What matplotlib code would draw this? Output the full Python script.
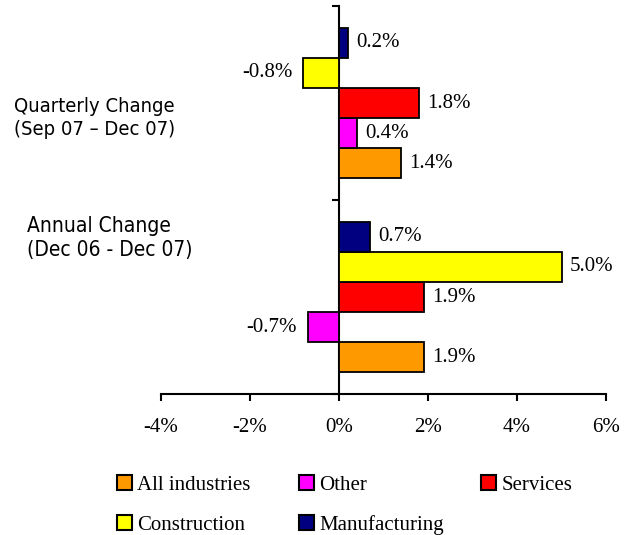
import numpy as np
import matplotlib.pyplot as plt
from matplotlib.patches import Patch

groups = ["Annual Change\n(Dec 06 - Dec 07)", "Quarterly Change\n(Sep 07 \u2013 Dec 07)"]
series = ["All industries", "Other", "Services", "Construction", "Manufacturing"]
# values per series: [annual, quarterly]
all_industries = [1.9, 1.4]
other = [-0.7, 0.4]
services = [1.9, 1.8]
construction = [5.0, -0.8]
manufacturing = [0.7, 0.2]
colors = ["#FF9900", "#FF00FF", "#FF0000", "#FFFF00", "#000080"]
xticks = [-4, -2, 0, 2, 4, 6]

values = [all_industries, other, services, construction, manufacturing]

serif = "Liberation Serif"
fs = 15

fig = plt.figure(figsize=(6.36, 5.35), dpi=100)
ax = fig.add_axes([161/636, 1-394/535, 445/636, 388/535])

h = 0.155
y = np.arange(len(groups))
for i, (name, vals, c) in enumerate(zip(series, values, colors)):
    yy = y + (i - 2) * h
    ax.barh(yy, vals, height=h, color=c, edgecolor="black", linewidth=1.3, zorder=3)
    for yv, v in zip(yy, vals):
        if v >= 0:
            ax.annotate(f"{v:.1f}%", (v, yv), xytext=(6, 0), textcoords="offset points",
                        ha="left", va="center", fontsize=fs, family=serif)
        else:
            ax.annotate(f"{v:.1f}%", (v, yv), xytext=(-8, 0), textcoords="offset points",
                        ha="right", va="center", fontsize=fs, family=serif)

ax.set_xlim(-4, 6)
ax.set_ylim(-0.5, 1.5)
ax.set_xticks(xticks)
ax.set_xticklabels([f"{t}%" for t in xticks], fontsize=fs, family=serif)
ax.set_yticks([-0.5, 0.5, 1.5])
ax.set_yticklabels([])
ax.spines["left"].set_position(("data", 0))
ax.spines["top"].set_visible(False)
ax.spines["right"].set_visible(False)
ax.spines["left"].set_linewidth(1.5)
ax.spines["bottom"].set_linewidth(1.5)
ax.tick_params(axis="x", direction="out", length=5, width=1.5, pad=12)
ax.tick_params(axis="y", direction="out", length=5, width=1.5)

# category labels on the left
fig.text(14/636, 1-118/535, groups[1], ha="left", va="center", fontsize=14.5,
         family="DejaVu Sans", fontstretch="condensed", linespacing=1.25)
fig.text(27/636, 1-238/535, groups[0], ha="left", va="center", fontsize=15,
         family="DejaVu Sans", fontstretch="condensed", linespacing=1.25)

# legend laid out in three columns
handles = {n: Patch(facecolor=c, edgecolor="black", linewidth=1.5) for n, c in zip(series, colors)}
legend_cols = [(["All industries", "Construction"], 117, 505),
               (["Other", "Manufacturing"], 299, 505),
               (["Services"], 481, 485)]
for names, x0, y0 in legend_cols:
    fig.legend([handles[n] for n in names], names, loc="center left",
               bbox_to_anchor=(x0/636, 1-y0/535), frameon=False,
               prop={"family": serif, "size": fs}, handlelength=0.72, handleheight=0.72,
               handletextpad=0.25, labelspacing=0.95, borderpad=0, borderaxespad=0)

fig.savefig("out.png", dpi=100)
